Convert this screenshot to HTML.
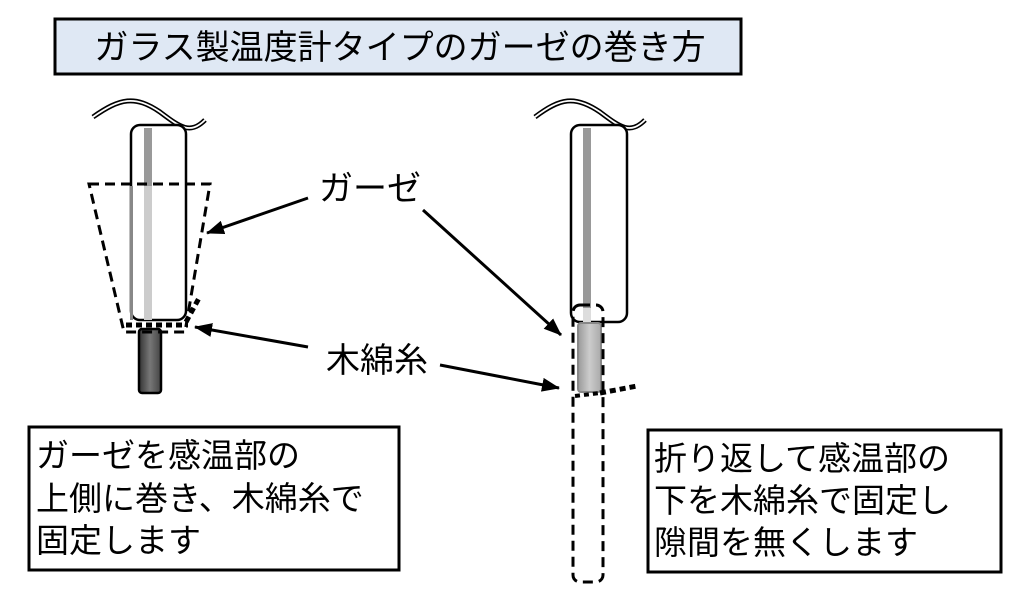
<!DOCTYPE html>
<html><head><meta charset="utf-8"><style>
html,body{margin:0;padding:0;background:#fff;}
svg{display:block;}
text{font-family:"Liberation Sans","Noto Sans CJK JP",sans-serif;fill:#000;}
</style></head><body>
<svg width="1028" height="604" viewBox="0 0 1028 604" xmlns="http://www.w3.org/2000/svg">
<defs>
<marker id="ah" markerWidth="18" markerHeight="14" refX="17" refY="7" orient="auto" markerUnits="userSpaceOnUse" viewBox="0 0 18 14">
<path d="M0,0 L18,7 L0,14 z" fill="#000"/>
</marker>
<linearGradient id="dk" x1="0" x2="1"><stop offset="0" stop-color="#333"/><stop offset="0.5" stop-color="#777"/><stop offset="1" stop-color="#444"/></linearGradient>
<linearGradient id="lt" x1="0" x2="1"><stop offset="0" stop-color="#999"/><stop offset="0.5" stop-color="#ccc"/><stop offset="1" stop-color="#aaa"/></linearGradient>
</defs>

<!-- title -->
<rect x="55" y="19" width="686" height="55" fill="#dfe8f4" stroke="#000" stroke-width="3"/>
<text x="400" y="59" font-size="34" text-anchor="middle">ガラス製温度計タイプのガーゼの巻き方</text>

<!-- LEFT thermometer -->
<path d="M93,117 C120,98 135,95 160,112 C180,127 190,135 205,120" fill="none" stroke="#000" stroke-width="5"/>
<path d="M93,117 C120,98 135,95 160,112 C180,127 190,135 205,120" fill="none" stroke="#fff" stroke-width="1.8"/>
<rect x="131" y="125" width="55" height="195" rx="9" fill="#fff" stroke="#000" stroke-width="2.5"/>
<rect x="144" y="128" width="8" height="58" fill="#999"/>
<rect x="144" y="186" width="8" height="134" fill="#ccc"/>
<rect x="130" y="186" width="3" height="134" fill="#888"/>
<rect x="139" y="329" width="22" height="64" rx="3" fill="url(#dk)" stroke="#000" stroke-width="2.5"/>
<path d="M89,184 L210,184 L185,332 L124,332 Z" fill="none" stroke="#000" stroke-width="3" stroke-dasharray="10,6"/>
<line x1="126" y1="325" x2="188" y2="325" stroke="#000" stroke-width="5" stroke-dasharray="6,4"/>
<line x1="186" y1="322" x2="199" y2="298" stroke="#000" stroke-width="5" stroke-dasharray="6,4"/>

<!-- RIGHT thermometer -->
<path d="M535,117 C560,98 575,95 600,112 C620,127 630,135 645,120" fill="none" stroke="#000" stroke-width="5"/>
<path d="M535,117 C560,98 575,95 600,112 C620,127 630,135 645,120" fill="none" stroke="#fff" stroke-width="1.8"/>
<rect x="571" y="125" width="56" height="197" rx="9" fill="#fff" stroke="#000" stroke-width="2.5"/>
<rect x="583" y="128" width="8" height="180" fill="#999"/>
<rect x="583" y="308" width="8" height="20" fill="#ddd"/>
<rect x="578" y="323" width="23" height="69" rx="3" fill="url(#lt)" stroke="#888" stroke-width="2"/>
<rect x="573" y="305" width="30" height="277" rx="7" fill="none" stroke="#000" stroke-width="3" stroke-dasharray="10,6"/>
<line x1="575" y1="396" x2="600" y2="393" stroke="#000" stroke-width="4" stroke-dasharray="5,4"/>
<line x1="600" y1="393" x2="637" y2="386" stroke="#000" stroke-width="5" stroke-dasharray="6,4"/>

<!-- labels & arrows -->
<text x="319" y="200" font-size="34">ガーゼ</text>
<text x="326" y="372" font-size="34">木綿糸</text>
<line x1="308" y1="198" x2="207" y2="233" stroke="#000" stroke-width="3" marker-end="url(#ah)"/>
<line x1="423" y1="210" x2="561" y2="335" stroke="#000" stroke-width="3" marker-end="url(#ah)"/>
<line x1="308" y1="347" x2="195" y2="327" stroke="#000" stroke-width="3" marker-end="url(#ah)"/>
<line x1="440" y1="365" x2="559" y2="388" stroke="#000" stroke-width="3" marker-end="url(#ah)"/>

<!-- text boxes -->
<rect x="29" y="427" width="370" height="143" fill="#fff" stroke="#000" stroke-width="3"/>
<text font-size="33"><tspan x="36" y="467">ガーゼを感温部の</tspan><tspan x="36" y="510">上側に巻き、木綿糸で</tspan><tspan x="36" y="552">固定します</tspan></text>
<rect x="648" y="430" width="353" height="142" fill="#fff" stroke="#000" stroke-width="3"/>
<text font-size="33"><tspan x="654" y="470">折り返して感温部の</tspan><tspan x="654" y="512">下を木綿糸で固定し</tspan><tspan x="654" y="554">隙間を無くします</tspan></text>
</svg>
</body></html>
